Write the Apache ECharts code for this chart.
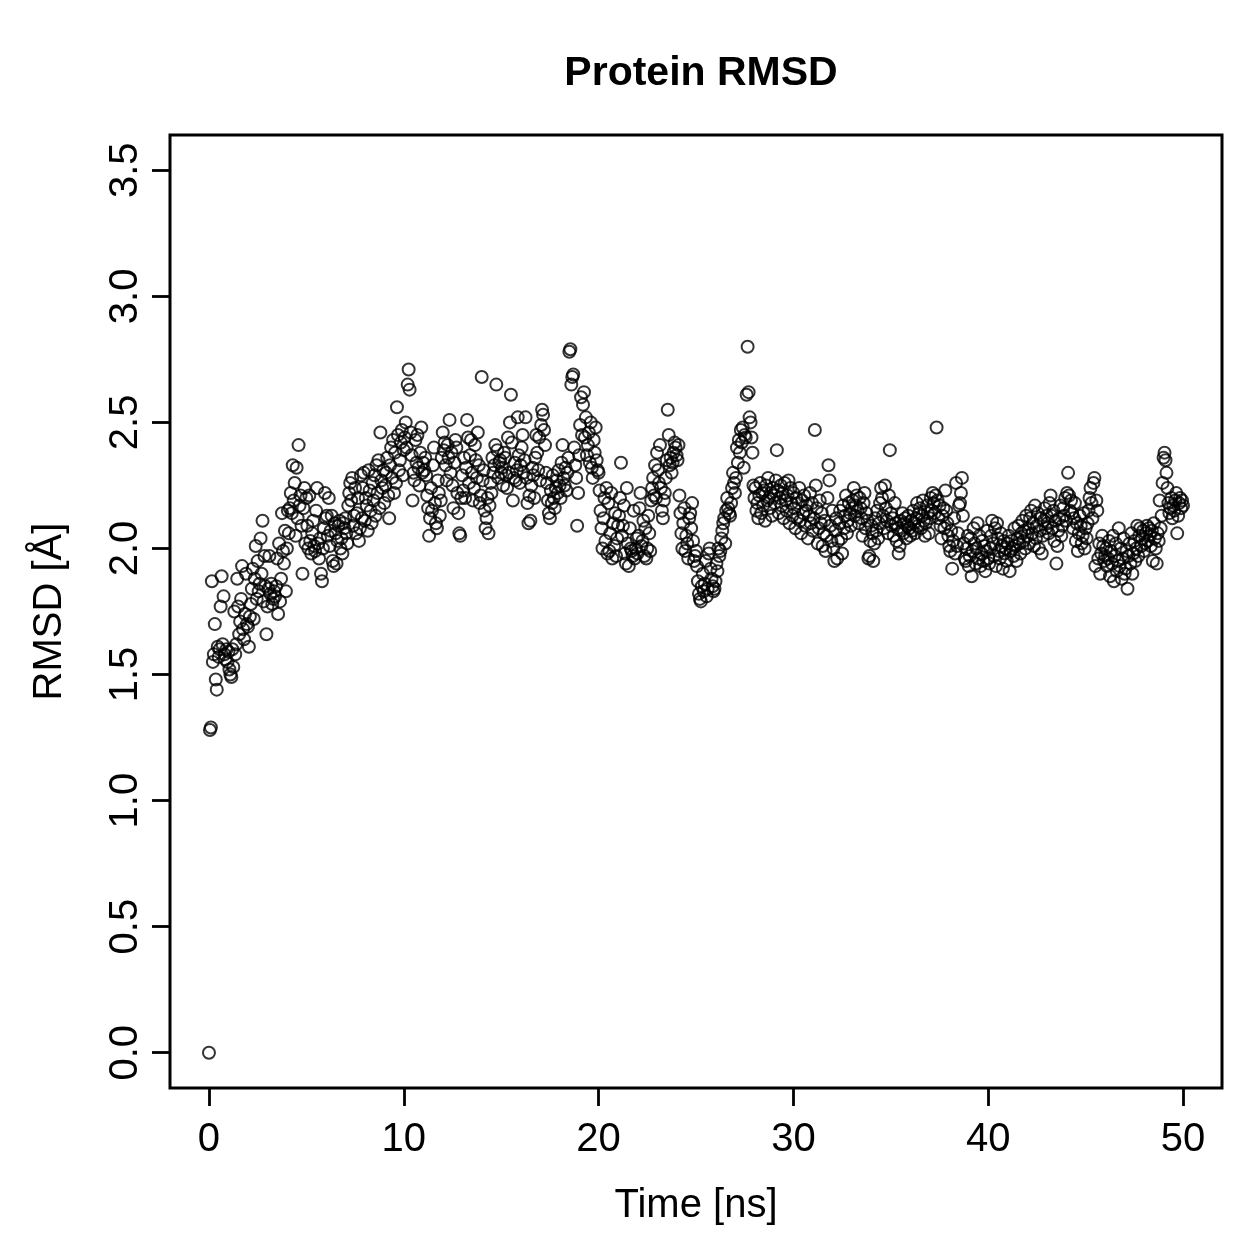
<!DOCTYPE html>
<html>
<head>
<meta charset="utf-8">
<script src="https://cdn.jsdelivr.net/npm/echarts@6/dist/echarts.min.js"></script>
<style>html,body{margin:0;padding:0;background:#fff}#c{width:1259px;height:1259px}</style>
</head>
<body>
<div id="c"></div>
<script>
// Time axis ticks and RMSD axis ticks
const xTicks = [0, 10, 20, 30, 40, 50];
const yTicks = [0, 0.5, 1.0, 1.5, 2.0, 2.5, 3.0, 3.5];
// First frame (t = 0)
const rmsdStart = [0.0];
// RMSD values, one inner list per nanosecond (frames every 0.05 ns)
const rmsd0to10 = [
 [1.28,1.29,1.87,1.55,1.58,1.70,1.48,1.44,1.61,1.57,1.60,1.77,1.89,1.62,1.81,1.58,1.56,1.60,1.55,1.59],
 [1.52,1.50,1.49,1.60,1.53,1.75,1.58,1.62,1.88,1.77,1.66,1.71,1.80,1.93,1.68,1.64,1.74,1.90,1.70,1.69],
 [1.61,1.73,1.78,1.84,1.92,1.72,1.88,2.01,1.80,1.95,1.83,1.86,2.04,1.90,2.11,1.79,1.97,1.85,1.66,1.77],
 [1.84,1.97,1.82,1.86,1.78,1.80,1.83,1.81,1.85,1.96,1.74,2.02,1.79,1.88,2.14,1.99,1.94,2.07,1.83,2.00],
 [2.15,2.06,2.16,2.22,2.14,2.33,2.19,2.26,2.05,2.32,2.12,2.41,2.17,2.21,2.09,1.90,2.16,2.24,2.02,2.20],
 [2.09,2.00,2.21,2.03,1.98,2.06,2.11,2.01,1.99,2.15,2.24,2.02,1.96,2.04,1.90,1.87,2.00,2.08,2.22,2.12],
 [2.13,2.05,2.20,2.01,2.07,2.13,1.95,1.93,2.10,2.06,1.94,2.03,2.09,2.11,2.00,2.04,1.98,2.10,2.08,2.12],
 [2.06,2.02,2.17,2.22,2.26,2.19,2.28,2.09,2.13,2.24,2.06,2.14,2.20,2.03,2.08,2.29,2.12,2.24,2.30,2.11],
 [2.20,2.17,2.07,2.31,2.23,2.15,2.10,2.26,2.19,2.29,2.13,2.33,2.22,2.35,2.16,2.46,2.27,2.24,2.31,2.18],
 [2.25,2.30,2.36,2.21,2.12,2.33,2.40,2.28,2.43,2.22,2.38,2.26,2.56,2.45,2.31,2.35,2.42,2.47,2.29,2.39]
];
const rmsd10to20 = [
 [2.44,2.50,2.40,2.65,2.71,2.63,2.46,2.37,2.19,2.30,2.27,2.43,2.34,2.45,2.32,2.25,2.38,2.48,2.30,2.34],
 [2.31,2.36,2.29,2.21,2.16,2.05,2.12,2.24,2.15,2.33,2.40,2.18,2.10,2.08,2.27,2.22,2.13,2.19,2.36,2.46],
 [2.39,2.42,2.33,2.27,2.41,2.36,2.51,2.30,2.38,2.25,2.16,2.34,2.43,2.40,2.22,2.14,2.06,2.05,2.20,2.29],
 [2.23,2.36,2.20,2.32,2.51,2.44,2.26,2.37,2.43,2.30,2.19,2.24,2.41,2.35,2.28,2.46,2.33,2.18,2.21,2.68],
 [2.27,2.31,2.15,2.08,2.12,2.20,2.06,2.17,2.26,2.22,2.36,2.30,2.33,2.41,2.65,2.39,2.28,2.34,2.35,2.30],
 [2.32,2.25,2.38,2.36,2.29,2.24,2.44,2.30,2.50,2.61,2.42,2.19,2.28,2.34,2.27,2.31,2.52,2.37,2.26,2.33],
 [2.40,2.45,2.30,2.35,2.52,2.28,2.18,2.10,2.21,2.11,2.25,2.32,2.29,2.20,2.36,2.45,2.38,2.31,2.44,2.27],
 [2.49,2.55,2.53,2.47,2.41,2.30,2.26,2.19,2.14,2.12,2.23,2.18,2.29,2.20,2.16,2.24,2.27,2.22,2.31,2.25],
 [2.20,2.34,2.41,2.28,2.25,2.32,2.23,2.30,2.36,2.78,2.79,2.65,2.68,2.69,2.40,2.33,2.28,2.09,2.22,2.37],
 [2.49,2.60,2.45,2.57,2.62,2.44,2.52,2.37,2.41,2.46,2.34,2.50,2.32,2.28,2.43,2.38,2.48,2.35,2.31,2.30]
];
const rmsd20to30 = [
 [2.23,2.15,2.08,2.00,2.12,2.20,2.03,2.24,1.98,2.18,1.99,2.06,2.22,1.96,2.10,2.01,2.14,1.97,2.04,2.09],
 [2.13,2.20,2.34,2.05,2.09,2.17,1.98,1.94,2.24,2.02,1.93,2.08,2.00,1.99,1.97,2.15,1.96,2.00,2.04,1.98],
 [2.05,2.16,2.22,2.01,2.03,2.11,1.97,2.08,1.96,2.00,2.13,2.06,1.99,2.19,2.24,2.28,2.21,2.33,2.20,2.38],
 [2.31,2.26,2.41,2.24,2.15,2.12,2.19,2.22,2.28,2.35,2.55,2.45,2.33,2.36,2.30,2.34,2.38,2.42,2.40,2.37],
 [2.35,2.41,2.21,2.14,2.06,2.00,2.10,2.16,1.99,2.05,2.02,1.96,2.12,2.14,2.08,2.18,2.03,1.95,1.97,1.99],
 [1.93,1.87,1.82,1.80,1.79,1.85,1.90,1.83,1.86,1.95,1.81,1.84,1.98,2.00,1.92,1.88,1.85,1.83,1.84,1.87],
 [1.94,1.91,2.00,1.97,1.99,2.04,2.07,2.10,2.12,2.02,2.15,2.20,2.16,2.14,2.13,2.18,2.24,2.30,2.26,2.22],
 [2.28,2.40,2.34,2.43,2.38,2.47,2.42,2.48,2.32,2.45,2.44,2.61,2.80,2.62,2.52,2.50,2.44,2.38,2.25,2.20],
 [2.24,2.15,2.18,2.12,2.21,2.26,2.14,2.22,2.17,2.23,2.11,2.25,2.19,2.28,2.20,2.16,2.22,2.13,2.24,2.21],
 [2.18,2.27,2.39,2.23,2.14,2.20,2.25,2.17,2.22,2.12,2.26,2.19,2.15,2.21,2.27,2.10,2.24,2.18,2.13,2.22]
];
const rmsd30to40 = [
 [2.16,2.08,2.20,2.12,2.18,2.24,2.11,2.06,2.19,2.14,2.21,2.09,2.15,2.17,2.04,2.13,2.22,2.10,2.18,2.07],
 [2.12,2.47,2.25,2.16,2.02,2.08,2.19,2.10,2.14,2.01,2.06,2.11,1.99,2.05,2.20,2.33,2.27,2.09,2.03,2.15],
 [2.00,1.95,2.07,2.12,1.96,2.03,2.10,2.15,2.04,1.98,2.17,2.08,2.13,2.21,2.06,2.11,2.18,2.14,2.09,2.16],
 [2.19,2.24,2.13,2.17,2.21,2.15,2.10,2.20,2.16,2.12,2.05,2.18,2.22,2.08,2.14,2.11,1.96,1.97,2.03,2.09],
 [2.06,1.95,2.02,2.12,2.07,2.15,2.04,2.10,2.18,2.24,2.20,2.13,2.08,2.25,2.16,2.11,2.06,2.21,2.39,2.14],
 [2.09,2.12,2.05,2.18,2.10,2.03,2.08,1.98,2.01,2.11,2.07,2.14,2.06,2.10,2.12,2.04,2.09,2.13,2.08,2.05],
 [2.11,2.07,2.15,2.10,2.06,2.12,2.18,2.09,2.14,2.16,2.08,2.13,2.19,2.11,2.05,2.10,2.17,2.14,2.06,2.12],
 [2.20,2.15,2.22,2.18,2.14,2.21,2.48,2.19,2.12,2.17,2.09,2.04,2.13,2.16,2.08,2.23,2.15,2.10,2.05,2.01],
 [1.99,2.07,1.92,2.03,2.12,1.98,2.26,2.01,2.06,2.17,2.18,2.22,2.28,2.13,2.02,1.96,1.95,2.00,2.05,1.93],
 [1.97,2.04,1.89,1.99,2.08,2.02,1.94,2.00,2.10,1.96,2.05,1.93,1.98,2.03,1.95,2.01,1.91,1.99,2.07,1.96]
];
const rmsd40to50 = [
 [1.94,2.00,2.05,2.11,2.02,1.97,2.08,1.93,2.10,2.04,1.99,1.96,2.06,2.01,1.92,2.03,1.98,2.00,1.95,2.02],
 [2.05,1.91,1.99,2.03,2.00,1.97,2.08,2.01,1.95,2.04,2.09,2.02,1.98,2.06,2.11,2.03,2.07,2.00,2.13,2.05],
 [2.08,2.02,2.12,2.15,2.06,2.10,2.01,2.17,2.04,2.09,2.14,2.00,2.07,2.12,1.98,2.05,2.11,2.16,2.08,2.13],
 [2.10,2.06,2.18,2.21,2.13,2.08,2.15,2.03,2.11,1.94,2.01,2.07,2.12,2.17,2.05,2.09,2.16,2.13,2.20,2.11],
 [2.22,2.30,2.21,2.15,2.19,2.14,2.08,2.12,2.18,2.03,2.10,1.99,2.06,2.13,2.09,2.02,2.05,2.14,2.00,2.08],
 [2.04,2.10,2.15,2.20,2.24,2.18,2.12,2.26,2.28,1.93,2.19,2.15,1.96,2.02,1.90,1.98,2.05,2.01,1.95,1.97],
 [2.00,1.93,1.96,2.03,1.89,1.99,1.94,2.05,1.87,1.97,2.02,1.91,1.95,2.08,1.93,2.00,1.88,1.96,2.04,1.90],
 [1.92,1.99,1.84,1.97,2.02,1.94,2.06,1.90,1.98,2.03,1.95,2.00,2.09,1.97,2.05,2.08,2.01,2.04,2.07,1.99],
 [2.02,2.06,2.09,2.03,2.08,2.05,2.01,2.07,1.95,2.10,2.04,2.00,1.94,2.06,2.03,2.19,2.08,2.13,2.26,2.36],
 [2.38,2.35,2.30,2.24,2.18,2.14,2.16,2.20,2.12,2.17,2.15,2.19,2.22,2.06,2.13,2.18,2.20,2.16,2.19,2.17]
];

// Build [time, rmsd] pairs
const points = [[0, rmsdStart[0]]];
[rmsd0to10, rmsd10to20, rmsd20to30, rmsd30to40, rmsd40to50].forEach((seg, s) => {
  seg.forEach((block, k) => {
    const ns = s * 10 + k;
    block.forEach((v, j) => {
      points.push([+(ns + (j + 1) / block.length).toFixed(3), v]);
    });
  });
});

const FONT = '"Liberation Sans", Arial, Helvetica, sans-serif';
const chart = echarts.init(document.getElementById('c'), null, {renderer: 'canvas'});
chart.setOption({
  animation: false,
  backgroundColor: '#fff',
  title: {
    text: 'Protein RMSD',
    left: 696, top: 48, textAlign: 'center',
    textStyle: {fontFamily: FONT, fontSize: 41, fontWeight: 'bold', color: '#000'}
  },
  grid: {
    left: 170, right: 37, top: 135, bottom: 171,
    show: true, borderColor: '#000', borderWidth: 3, backgroundColor: 'transparent'
  },
  xAxis: {
    type: 'value', min: -2, max: 52,
    name: 'Time [ns]', nameLocation: 'middle', nameGap: 98,
    nameTextStyle: {fontFamily: FONT, fontSize: 40, color: '#000'},
    axisLine: {show: false, onZero: false},
    axisTick: {show: true, inside: false, length: 18, lineStyle: {color: '#000', width: 2.8}, customValues: xTicks},
    axisLabel: {fontFamily: FONT, fontSize: 40, color: '#000', margin: 32, customValues: xTicks},
    splitLine: {show: false}
  },
  yAxis: {
    type: 'value', min: -0.14, max: 3.64,
    name: 'RMSD [Å]', nameLocation: 'middle', nameGap: 100, nameRotate: 90,
    nameTextStyle: {fontFamily: FONT, fontSize: 40, color: '#000'},
    axisLine: {show: false, onZero: false},
    axisTick: {show: true, inside: false, length: 18, lineStyle: {color: '#000', width: 2.8}, customValues: yTicks},
    axisLabel: {fontFamily: FONT, fontSize: 40, color: '#000', margin: 24, rotate: 90,
      customValues: yTicks, formatter: v => v.toFixed(1)},
    splitLine: {show: false}
  },
  series: [{
    type: 'scatter',
    data: points,
    symbol: 'circle',
    symbolSize: 12,
    silent: true,
    itemStyle: {color: 'rgba(0,0,0,0)', borderColor: '#000', borderWidth: 2},
    emphasis: {disabled: true}
  }]
});
</script>
</body>
</html>
